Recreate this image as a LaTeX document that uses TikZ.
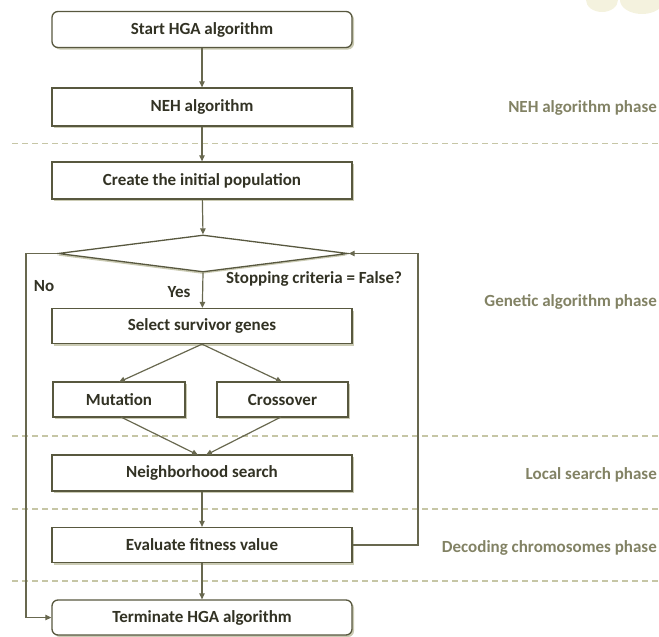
\documentclass[tikz,border=0pt]{standalone}
\usepackage{fontspec}
\setmainfont{Carlito}
\usetikzlibrary{arrows.meta,shapes.geometric,shadows}
\definecolor{boxline}{HTML}{58583F}
\definecolor{conn}{HTML}{68684F}
\definecolor{txt}{HTML}{323224}
\definecolor{phase}{HTML}{828264}
\definecolor{dashc}{HTML}{C6C6A6}
\definecolor{shadowc}{HTML}{B5B594}
\definecolor{wm}{HTML}{F4F2DE}
\tikzset{
  procbox/.style={draw=boxline, line width=1.3pt, fill=white, minimum width=300pt, minimum height=36pt, inner sep=0pt,
     font=\fontsize{17}{19}\selectfont\bfseries, text=txt,
     drop shadow={shadow xshift=2pt, shadow yshift=-2pt, fill=shadowc, opacity=0.7}},
  termbox/.style={procbox, rounded corners=6pt},
  decbox/.style={diamond, draw=boxline, line width=1.3pt, fill=white, minimum width=290pt, minimum height=37pt, inner sep=0pt,
     drop shadow={shadow xshift=-1pt, shadow yshift=-2pt, fill=shadowc, opacity=0.7}},
  conn/.style={draw=conn, line width=1.2pt, -{Triangle[length=6pt,width=5.5pt]}},
  phaselbl/.style={anchor=east, text=phase, font=\fontsize{17}{19}\selectfont\bfseries, inner sep=0pt},
  lbl/.style={text=txt, font=\fontsize{17}{19}\selectfont\bfseries, inner sep=0pt},
  sep/.style={draw=dashc, line width=1.2pt, dash pattern=on 6pt off 4pt}
}
\begin{document}
\begin{tikzpicture}[x=1pt,y=-1pt]
\useasboundingbox (0,0) rectangle (659,637);
% faint watermark
\fill[wm] (586,0) arc[start angle=180, end angle=360, x radius=16pt, y radius=12pt] -- cycle;
\fill[wm] (620,0) arc[start angle=180, end angle=360, x radius=22pt, y radius=14pt] -- cycle;
% phase separators
\coordinate (s1a) at (12,143.5); \coordinate (s1b) at (659,143.5);
\coordinate (s2a) at (12,436); \coordinate (s2b) at (659,436);
\coordinate (s3a) at (12,509); \coordinate (s3b) at (659,509);
\coordinate (s4a) at (12,581); \coordinate (s4b) at (659,581);
\draw[sep] (s1a) -- (s1b);
\draw[sep] (s2a) -- (s2b);
\draw[sep] (s3a) -- (s3b);
\draw[sep] (s4a) -- (s4b);
% nodes
\node[termbox] (start) at (202,29.5) {Start HGA algorithm};
\node[procbox, minimum height=38pt] (neh) at (202,107) {NEH algorithm};
\node[procbox, minimum height=37pt] (create) at (202,180.5) {Create the initial population};
\node[decbox] (dec) at (203,253.5) {};
\node[procbox, minimum height=35pt] (select) at (202,326) {Select survivor genes};
\node[procbox, minimum width=132pt, minimum height=35pt] (mut) at (119,399.5) {Mutation};
\node[procbox, minimum width=131pt, minimum height=35pt] (cro) at (282.5,399.5) {Crossover};
\node[procbox] (nbr) at (202,473) {Neighborhood search};
\node[procbox, minimum height=35pt] (eval) at (202,545) {Evaluate fitness value};
\node[termbox, minimum height=35pt] (term) at (202,617.5) {Terminate HGA algorithm};
% labels
\node[lbl] (stop) at (314,279) {Stopping criteria = False?};
\node[lbl] (no) at (44,286) {No};
\node[lbl] (yes) at (179,292) {Yes};
\node[phaselbl] (p1) at (657,108) {NEH algorithm phase};
\node[phaselbl] (p2) at (657,302) {Genetic algorithm phase};
\node[phaselbl] (p3) at (657,475) {Local search phase};
\node[phaselbl] (p4) at (657,548) {Decoding chromosomes phase};
% connectors
\draw[conn] (start) -- (neh);
\draw[conn] (neh) -- (create);
\draw[conn] (create) -- (dec.north);
\draw[conn] (dec.south) -- (select);
\coordinate (mt) at (119,382); \coordinate (ct) at (282,382);
\coordinate (mb) at (121,417); \coordinate (cb) at (281,417);
\coordinate (n1) at (198,455); \coordinate (n2) at (206,455);
\draw[conn] (select.south) -- (mt);
\draw[conn] (select.south) -- (ct);
\draw[conn] (mb) -- (n1);
\draw[conn] (cb) -- (n2);
\draw[conn] (nbr) -- (eval);
\draw[conn] (eval) -- (term);
\coordinate (L1) at (26,253.5);
\draw[conn] (dec.west) -- (L1) |- (term.west);
\coordinate (R1) at (418,253.5);
\draw[conn] (eval.east) -| (R1) -- (dec.east);
\end{tikzpicture}
\end{document}
